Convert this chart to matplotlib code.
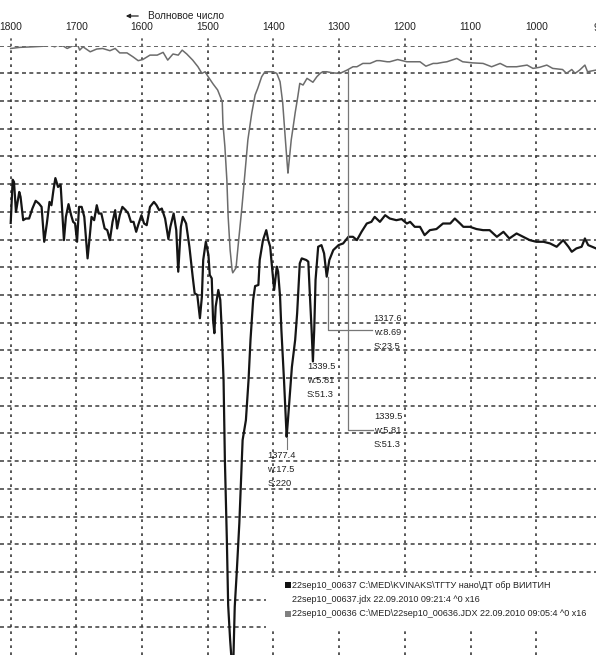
import matplotlib
matplotlib.use("Agg")
import matplotlib.pyplot as plt
from matplotlib.patches import Rectangle
import matplotlib.transforms as mtransforms

plt.rcParams['font.family'] = ['Liberation Sans', 'DejaVu Sans']

# ---- data: upper (grey) spectrum, 22sep10_00636 ----
wn_grey = [1800, 1786, 1766, 1751, 1740, 1733, 1725, 1714, 1707, 1699, 1695, 1690, 1679, 1669,
           1660, 1649, 1641, 1634, 1623, 1614, 1606, 1599, 1588, 1577, 1568, 1561, 1553, 1545,
           1539, 1532, 1523, 1515, 1509, 1504, 1500, 1492, 1485, 1478, 1477, 1474, 1471, 1469,
           1466, 1463, 1462, 1457, 1454, 1448, 1443, 1439, 1433, 1428, 1424, 1418, 1413, 1401,
           1395, 1390, 1386, 1383, 1380, 1378, 1377, 1373, 1370, 1367, 1363, 1360, 1355, 1349,
           1345, 1340, 1334, 1329, 1325, 1319, 1310, 1299, 1288, 1279, 1273, 1264, 1253, 1243,
           1238, 1227, 1223, 1211, 1197, 1182, 1177, 1168, 1157, 1151, 1142, 1136, 1121, 1112,
           1097, 1081, 1068, 1055, 1045, 1030, 1014, 1005, 995, 984, 975, 960, 954, 946, 941,
           934, 926, 922, 909]
t_grey = [99.5, 99.7, 99.8, 99.9, 100.1, 99.8, 100.3, 99.5, 99.9, 100.4, 99.2, 99.8, 98.9, 99.4,
          99.5, 99.1, 99.5, 98.7, 98.7, 98.0, 97.3, 97.5, 98.3, 98.3, 98.8, 97.4, 98.5, 98.3,
          99.2, 98.5, 97.4, 96.2, 95.0, 95.3, 94.5, 93.1, 92.0, 89.9, 86.0, 81.8, 75.8, 69.1,
          63.1, 59.5, 59.0, 59.9, 63.7, 70.9, 77.6, 83.0, 87.9, 91.1, 92.3, 94.4, 95.3, 95.3,
          95.0, 93.5, 89.7, 84.8, 80.0, 77.0, 78.2, 83.0, 85.4, 87.9, 90.8, 93.2, 92.9, 94.1,
          93.8, 93.4, 94.4, 95.0, 95.3, 95.3, 95.1, 95.0, 95.6, 96.2, 96.2, 96.8, 96.8, 97.3,
          97.3, 97.1, 97.1, 97.5, 97.1, 97.1, 97.1, 96.3, 96.8, 96.8, 97.0, 97.1, 97.7, 97.1,
          96.9, 96.8, 96.2, 96.8, 96.2, 96.2, 96.5, 95.9, 96.1, 96.5, 95.9, 95.7, 95.0, 95.7, 95.0,
          95.6, 96.5, 95.3, 95.6]

# ---- data: lower (black) spectrum, 22sep10_00637 ----
wn_black = [1800, 1797, 1795, 1792, 1787, 1785, 1781, 1777, 1772, 1767, 1762, 1757, 1753, 1749,
            1745, 1741, 1738, 1735, 1732, 1728, 1724, 1719, 1716, 1712, 1708, 1705, 1702, 1699,
            1696, 1692, 1688, 1683, 1680, 1677, 1673, 1669, 1666, 1662, 1657, 1653, 1649, 1645,
            1641, 1638, 1634, 1630, 1625, 1621, 1617, 1613, 1609, 1606, 1601, 1597, 1593, 1588,
            1582, 1578, 1574, 1570, 1565, 1560, 1557, 1552, 1548, 1545, 1541, 1538, 1533, 1528,
            1523, 1520, 1516, 1512, 1509, 1507, 1503, 1499, 1497, 1494, 1492, 1490, 1488, 1484,
            1481, 1479, 1476, 1474, 1471, 1469, 1466, 1464, 1461, 1459, 1456, 1452, 1447, 1442,
            1438, 1435, 1431, 1428, 1423, 1421, 1416, 1411, 1408, 1405, 1403, 1399, 1395, 1393,
            1390, 1388, 1384, 1380, 1378, 1372, 1367, 1364, 1360, 1357, 1350, 1347, 1345, 1342,
            1340, 1338, 1336, 1332, 1327, 1323, 1319, 1315, 1309, 1301, 1294, 1286, 1279, 1273,
            1266, 1258, 1251, 1246, 1238, 1230, 1223, 1213, 1205, 1197, 1192, 1185, 1177, 1170,
            1162, 1152, 1142, 1131, 1124, 1116, 1111, 1101, 1091, 1081, 1071, 1060, 1050, 1041,
            1030, 1020, 1010, 1000, 989, 979, 969, 959, 951, 946, 939, 931, 926, 921, 909]
t_black = [68.0, 75.8, 75.4, 70.0, 73.6, 72.7, 68.5, 68.8, 68.8, 70.6, 72.0, 71.5, 70.9, 64.6,
           67.9, 71.8, 71.2, 73.9, 76.1, 74.5, 74.9, 64.9, 69.1, 71.4, 69.4, 68.2, 67.9, 64.6,
           70.9, 70.9, 69.1, 61.6, 65.2, 69.1, 68.5, 71.2, 69.7, 69.7, 67.0, 66.7, 64.9, 68.2,
           70.3, 67.0, 69.4, 70.9, 70.3, 69.7, 68.2, 68.2, 66.4, 67.6, 69.4, 67.9, 67.6, 70.9,
           71.8, 71.2, 70.3, 70.6, 68.8, 65.1, 67.3, 69.7, 66.7, 59.2, 67.3, 69.1, 67.9, 63.7,
           58.3, 55.3, 55.0, 50.8, 54.7, 61.3, 64.6, 62.2, 58.6, 58.0, 50.5, 48.1, 52.9, 55.9,
           54.1, 49.3, 39.6, 25.2, 10.8, -1.0, -7.3, -10.6, -10.6, -1.3, 4.8, 13.8, 28.8, 32.4,
           39.6, 46.9, 54.1, 56.6, 56.8, 61.3, 64.9, 66.7, 64.9, 63.7, 61.0, 55.9, 60.1, 59.2,
           54.7, 48.7, 39.6, 29.4, 32.4, 42.0, 46.9, 51.7, 60.7, 61.6, 61.3, 61.0, 55.9, 48.7,
           43.0, 48.7, 57.7, 63.7, 64.0, 62.5, 58.3, 61.3, 63.1, 64.0, 64.3, 65.5, 65.5, 64.9,
           66.4, 67.9, 68.2, 69.1, 68.2, 69.4, 68.8, 68.5, 68.7, 67.9, 68.2, 67.3, 67.3, 65.8,
           66.7, 66.9, 67.9, 67.9, 68.8, 67.9, 67.3, 67.3, 66.9, 66.7, 66.7, 65.5, 66.4, 65.2,
           66.1, 65.5, 64.9, 64.6, 64.6, 64.3, 63.7, 64.9, 63.7, 62.8, 63.4, 63.7, 65.2, 64.0, 63.4]

tick_values = [1800, 1700, 1600, 1500, 1400, 1300, 1200, 1100, 1000, 900]
x_label = "Волновое число"

# peak annotations: (label lines, text x, text top y)
peak_labels = [
    (["1377.4", "w:17.5", "S:220"], 1409.6, 26.1),
    (["1339.5", "w:5.81", "S:51.3"], 1349.0, 42.0),
    (["1317.6", "w:8.69", "S:23.5"], 1247.5, 50.8),
    (["1339.5", "w:5.81", "S:51.3"], 1247.0, 33.1),
]

legend_lines = [
    ("22sep10_00637 C:\\MED\\KVINAKS\\ТГТУ нано\\ДТ обр ВИИТИН", "#111111"),
    ("22sep10_00637.jdx 22.09.2010 09:21:4 ^0 x16", None),
    ("22sep10_00636 C:\\MED\\22sep10_00636.JDX 22.09.2010 09:05:4 ^0 x16", "#808080"),
]

W, H = 596, 655
fig = plt.figure(figsize=(W / 100, H / 100), dpi=100)
top_frac = 1 - 45.7 / H
ax = fig.add_axes([0, 0, 1, top_frac])
ax.set_xlim(1816.3, 909.1)
ax.set_ylim(-10, 100)
for s in ax.spines.values():
    s.set_visible(False)

# grid
grid_col = "#3a3a3a"
for yv in range(-5, 101, 5):
    ax.axhline(yv, color=grid_col, lw=1.1, ls=(0, (2.6, 2.2)), zorder=1)
for xv in tick_values:
    ax.axvline(xv, color=grid_col, lw=1.2, ls=(0, (1.6, 2.6)), zorder=1)

# ticks on top
ax.set_yticks([])
ax.set_xticks(tick_values[:-1])
ax.set_xticklabels([str(v) for v in tick_values[:-1]])
ax.tick_params(axis='x', top=True, labeltop=True, bottom=False, labelbottom=False,
               length=0, pad=10, labelsize=7.4, labelcolor="#222222")
blend = mtransforms.blended_transform_factory(ax.transData, ax.transAxes)
tick_h = 9 / (H * top_frac)
for xv in tick_values:
    ax.plot([xv, xv], [1.0, 1.0 + tick_h], transform=blend, color=grid_col, lw=1.1,
            ls=(0, (1.5, 2)), clip_on=False)
ax.text(900, 1.0 + 13 / (H * top_frac), "900", transform=blend, ha='center', va='bottom',
        fontsize=7.4, color="#222222", clip_on=False)

# spectra
ax.plot(wn_grey, t_grey, color="#6c6c6c", lw=1.1, zorder=3)
ax.plot(wn_black, t_black, color="#151515", lw=1.6, zorder=4)

# annotation leader lines
lead_col = "#777777"
ax.plot([1379.9, 1379.9], [29.4, 27.2], color=lead_col, lw=0.8, zorder=5)
ax.plot([1317.6, 1317.6, 1250], [58.3, 48.7, 48.7], color=lead_col, lw=0.9, zorder=5)
ax.plot([1286.6, 1286.6, 1249], [95.6, 30.6, 30.6], color=lead_col, lw=0.9, zorder=5)

step = 14 / 5.539
for lines, xt, yt in peak_labels:
    for i, s in enumerate(lines):
        ax.text(xt, yt - i * step, s, ha='left', va='center', fontsize=6.7, color="#222222",
                zorder=6)

# legend box
fig.patches.append(Rectangle((266 / W, 1 - 630 / H), (W - 266) / W, 53 / H,
                             transform=fig.transFigure, facecolor='white',
                             edgecolor='none', zorder=2))
leg_y = [585, 600, 614]
for (txt, col), yp in zip(legend_lines, leg_y):
    if col is not None:
        fig.patches.append(Rectangle((285 / W, 1 - (yp + 2.7) / H), 5.5 / W, 5.5 / H,
                                     transform=fig.transFigure, facecolor=col,
                                     edgecolor='none', zorder=3))
    fig.text(292 / W, 1 - yp / H, txt, ha='left', va='center', fontsize=6.45,
             color="#222222", zorder=4)

# axis title with arrow
fig.text(148 / W, 1 - 16 / H, x_label, ha='left', va='center', fontsize=7.3, color="#222222")
fig.add_artist(matplotlib.patches.FancyArrowPatch((141 / W, 1 - 16 / H), (123 / W, 1 - 16 / H),
                                                  transform=fig.transFigure, arrowstyle='-|>',
                                                  mutation_scale=6, lw=0.9, color="#222222"))

fig.savefig("out.png", dpi=100, facecolor='white')
